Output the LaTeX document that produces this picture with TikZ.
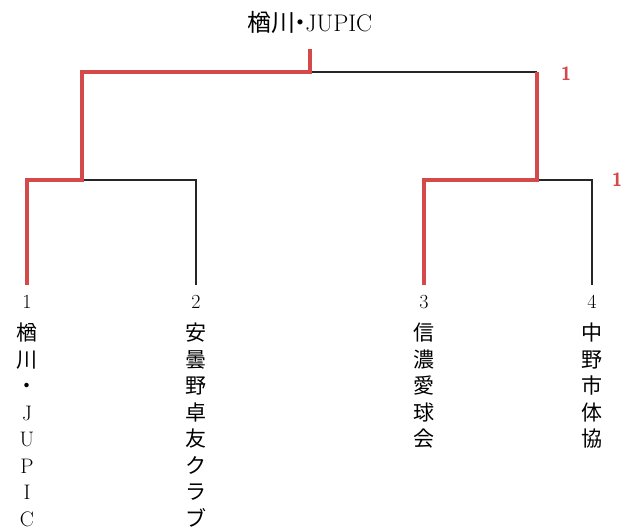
\documentclass[tikz,border=0pt]{standalone}
\usepackage{fontspec}
\newfontfamily\jpfont{Noto Sans CJK JP}
\definecolor{winred}{RGB}{212,74,74}
\tikzset{
  win/.style={line width=4.8pt,color=winred},
  lose/.style={line width=1.7pt,color=black!85},
  seed/.style={font=\fontsize{20}{20}\selectfont,inner sep=0pt},
  team/.style={font=\fontsize{21}{26.5}\selectfont,align=center,anchor=north,inner sep=0pt},
  jpteam/.style={team,font=\jpfont\fontsize{21}{26.5}\selectfont},
  score/.style={text=winred,font=\sffamily\bfseries\fontsize{19}{19}\selectfont,inner sep=0pt}
}
\begin{document}
\begin{tikzpicture}[x=1pt,y=-1pt]
  \useasboundingbox (0,0) rectangle (637,532);
   \coordinate (Lone) at (27,285);
   \coordinate (Ltwo) at (196,285);
   \coordinate (Lthree) at (424,285);
   \coordinate (Lfour) at (592,285);
   \coordinate (Sone) at (82,180);
   \coordinate (Stwo) at (537,180);
   \coordinate (Stwotop) at (537,72);
   \coordinate (Final) at (310,72);
   \coordinate (Champ) at (310,49);
  \node[font=\fontsize{24}{24}\selectfont] (Title) at (310,22)
    {{\jpfont 楢川}\hspace{-.3em}{\jpfont ・}\hspace{-.3em}JUPIC};
  % black lines first, red winners on top
  \draw [lose] (Sone) -| (Ltwo);
  \draw [lose] (Stwo) -| (Lfour);
  \draw [lose] (Final) -- (Stwotop);
  \draw [win,line join=miter] (Lone) |- (Sone) |- (Final) -- (Champ);
  \draw [win,line join=miter] (Lthree) |- (Stwo) -- (Stwotop);
  \node[score] (Sfinal) at (566,74) {1};
  \node[score] (Ssemi) at (617,180) {1};
  \foreach \n/\x in {1/27,2/196,3/424,4/592}{% seed numbers
    \node[seed] (Seed\n) at (\x,302) {\n};
  }
  \node[team] (Teamone) at (27,323) {{\jpfont 楢}\\{\jpfont 川}\\{\jpfont ・}\\J\\U\\P\\I\\C};
  \node[jpteam] (Teamtwo) at (196,323) {安\\曇\\野\\卓\\友\\ク\\ラ\\ブ};
  \node[jpteam] (Teamthree) at (424,323) {信\\濃\\愛\\球\\会};
  \node[jpteam] (Teamfour) at (592,323) {中\\野\\市\\体\\協};
\end{tikzpicture}
\end{document}
